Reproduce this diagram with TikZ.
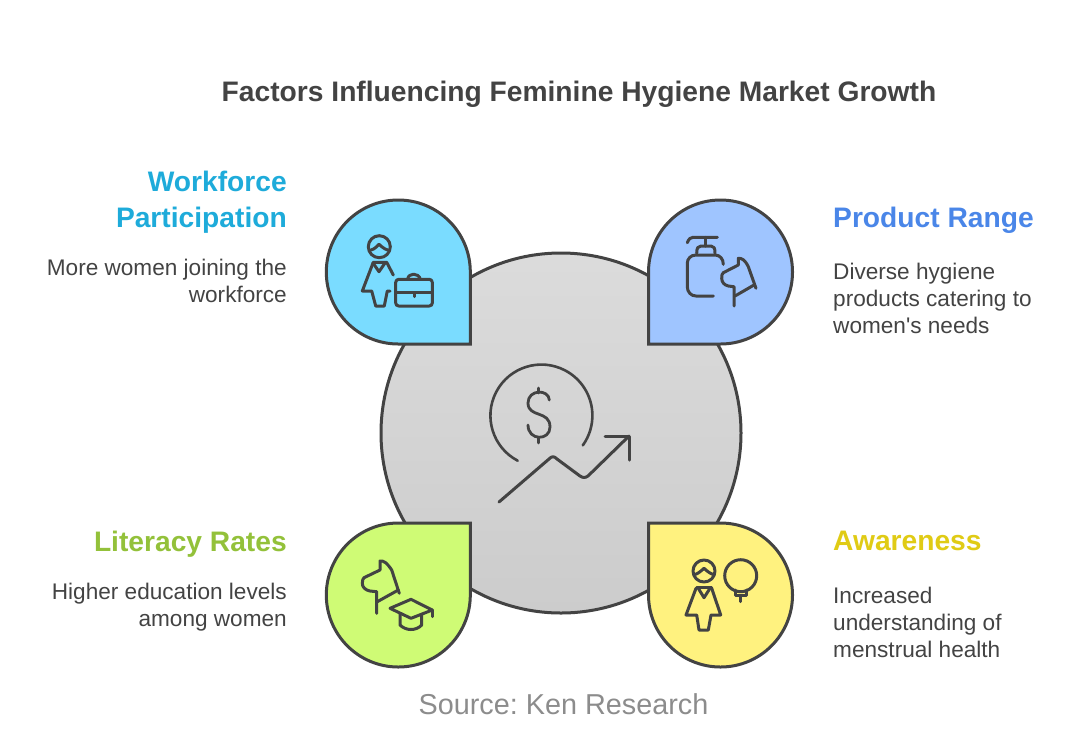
\documentclass[tikz,border=0pt]{standalone}
\usepackage{fontspec}
\setmainfont{Liberation Sans}
\frenchspacing
\definecolor{inkgray}{HTML}{434343}
\definecolor{bluehead}{HTML}{1EABDA}
\definecolor{rangehead}{HTML}{4A86E8}
\definecolor{greenhead}{HTML}{93C13A}
\definecolor{yellowhead}{HTML}{E0CB15}
\tikzset{
drop/.style={draw=inkgray,line width=3pt,line join=miter},
icon/.style={draw=inkgray,line width=3pt,line cap=round,line join=round},
heading/.style={font=\fontsize{28.2}{36}\selectfont\bfseries,inner sep=0pt},
blurb/.style={font=\fontsize{22.6}{27}\selectfont,text=inkgray,inner sep=0pt}
}
\begin{document}
\begin{tikzpicture}[x=1pt,y=-1pt]
	\useasboundingbox (0,0) rectangle (1083,748);
	%Hub
	\node[circle,draw=inkgray,line width=3pt,minimum size=360pt,inner sep=0pt,top color=black!14,bottom color=black!20] (hub) at (561,433) {};
	%Drops
	\draw[drop,fill={rgb,255:red,122;green,220;blue,255}] (470.3,344) -- (398.3,344) arc[start angle=90,end angle=360,radius=72] -- cycle;
	\draw[drop,fill={rgb,255:red,159;green,197;blue,255}] (648.5,344) -- (720.5,344) arc[start angle=90,end angle=-180,radius=72] -- cycle;
	\draw[drop,fill={rgb,255:red,207;green,251;blue,117}] (470.3,523) -- (398.3,523) arc[start angle=270,end angle=0,radius=72] -- cycle;
	\draw[drop,fill={rgb,255:red,255;green,242;blue,127}] (648.5,523) -- (720.5,523) arc[start angle=-90,end angle=180,radius=72] -- cycle;
	%Texts
	\node[heading,text=inkgray] (title) at (579,94) {Factors Influencing Feminine Hygiene Market Growth};
	\node[heading,text=bluehead,align=right,anchor=north east] (workforce) at (287,171) {Workforce\\Participation};
	\node[blurb,align=right,anchor=north east] (workforcetext) at (287,259) {More women joining the\\workforce};
	\node[heading,text=rangehead,anchor=north west] (range) at (833,207) {Product Range};
	\node[blurb,align=left,anchor=north west] (rangetext) at (833,263) {Diverse hygiene\\products catering to\\women\textquotesingle s needs};
	\node[heading,text=greenhead,anchor=north east] (literacy) at (287,531) {Literacy Rates};
	\node[blurb,align=right,anchor=north east] (literacytext) at (287,583) {Higher education levels\\among women};
	\node[heading,text=yellowhead,anchor=north west] (awareness) at (833,531) {Awareness};
	\node[blurb,align=left,anchor=north west] (awarenesstext) at (833,587) {Increased\\understanding of\\menstrual health};
	\node[font=\fontsize{28.8}{35}\selectfont,text=black!45,inner sep=0pt] (source) at (563.5,704) {Source: Ken Research};
	%Hub icon
	\draw[icon,line width=2.6pt] (517.7,460.7) arc[start angle=117.7,end angle=395.8,radius=51];
	\draw[icon,line width=2.8pt] (549.3,400) .. controls (549,389) and (528,389) .. (528,403) .. controls (528,418) and (550,410) .. (550,427) .. controls (550,441) and (528,441) .. (528,425);
	\draw[icon,line width=2.8pt] (538.5,388) -- (538.5,393) (538.5,438) -- (538.5,443);
	\draw[icon] (499,502) -- (549,459) .. controls (552,456) and (554,456) .. (557,459) -- (580,476) .. controls (583,478) and (585,478) .. (588,476) -- (629,436);
	\draw[icon] (605,436) -- (629,436) -- (629,460);
	%Woman and briefcase
	\draw[icon] (379.3,246.7) circle[radius=11];
	\draw[icon] (371,250) .. controls (375,249) and (377,246) .. (379,244.3) .. controls (381,246) and (384,249) .. (387.7,250);
	\draw[icon] (373,262.3) -- (386.7,262.3) -- (393.3,275);
	\draw[icon] (373,263) -- (379,271.7) -- (385,263);
	\draw[icon] (373,263) -- (362.3,291) -- (371.7,291) -- (375.7,306) -- (384.3,306) -- (387.3,291) -- (390,291);
	\draw[icon,rounded corners=3pt] (395.7,279.3) rectangle (432.3,306);
	\draw[icon] (395.7,292.7) -- (432.3,292.7);
	\draw[icon] (414,292.7) -- (414,296.7);
	\draw[icon] (407.7,279.3) .. controls (408,272.5) and (419,272.5) .. (420.3,279.3);
	%Soap and head
	\draw[icon] (687.3,242.7) .. controls (689,239) and (690,237.3) .. (693,237.3) -- (717.3,237.3);
	\draw[icon] (705,237.3) -- (705,246);
	\draw[icon] (696.7,253.3) .. controls (696.7,248) and (698,246) .. (701,246) -- (711,246) .. controls (714,246) and (715,248) .. (715,253.3);
	\draw[icon] (723.3,264.3) .. controls (723.3,259) and (720,255) .. (715,255) -- (696,255) .. controls (690.5,255) and (687.3,259) .. (687.3,263.3) -- (687.3,286.7) .. controls (687.3,292) and (691,296) .. (696,296) -- (713.3,296);
	\draw[icon] (734,306) -- (734,286.7) -- (728.3,286) .. controls (724,285) and (721.7,282) .. (721.7,278.3) .. controls (721.7,275) and (722,274) .. (723.3,272.7) -- (738.3,265) -- (738.3,258.3) .. controls (742,258) and (745,260) .. (748.3,266.7) -- (756,288.3);
	\draw[icon] (735,296) -- (754,285);
	%Head and cap
	\draw[icon] (376.7,613.3) -- (376.7,591.7) -- (370,591) .. controls (365,590) and (362.3,587) .. (362.3,583.3) .. controls (362.3,580) and (363,579) .. (364,577.7) -- (380,570) -- (380,561) .. controls (384,560.5) and (387,563) .. (391.7,570) -- (399.3,593.3);
	\draw[icon] (377.3,601.7) -- (398.3,590);
	\draw[icon] (390,608.3) -- (411,599.3) -- (432.3,610) -- (411,618.3) -- cycle;
	\draw[icon] (400,613.3) -- (400,625) .. controls (406,631) and (416,631) .. (421.7,625) -- (421.7,614.3);
	\draw[icon] (432.3,610) -- (432.3,616.7);
	%Woman and bulb
	\draw[icon] (704,571) circle[radius=11];
	\draw[icon] (695.7,574.3) .. controls (699,573) and (702,570) .. (704,568.3) .. controls (706,570) and (709,573) .. (712.7,574.3);
	\draw[icon] (696.7,587.3) -- (711.7,587.3);
	\draw[icon] (698.3,588.3) -- (704,597.7) -- (710,588.3);
	\draw[icon] (696,588.3) -- (686,615) -- (696.7,615) -- (699,630) -- (708.3,630) -- (711,615) -- (720.7,615) -- (711.7,588.3);
	\draw[icon] (740.7,575.7) circle[radius=16];
	\draw[icon] (735,590) -- (735,595.7) -- (746.7,595.7) -- (746.7,590);
	\draw[icon] (740.7,595.7) -- (740.7,601.7);
\end{tikzpicture}
\end{document}
